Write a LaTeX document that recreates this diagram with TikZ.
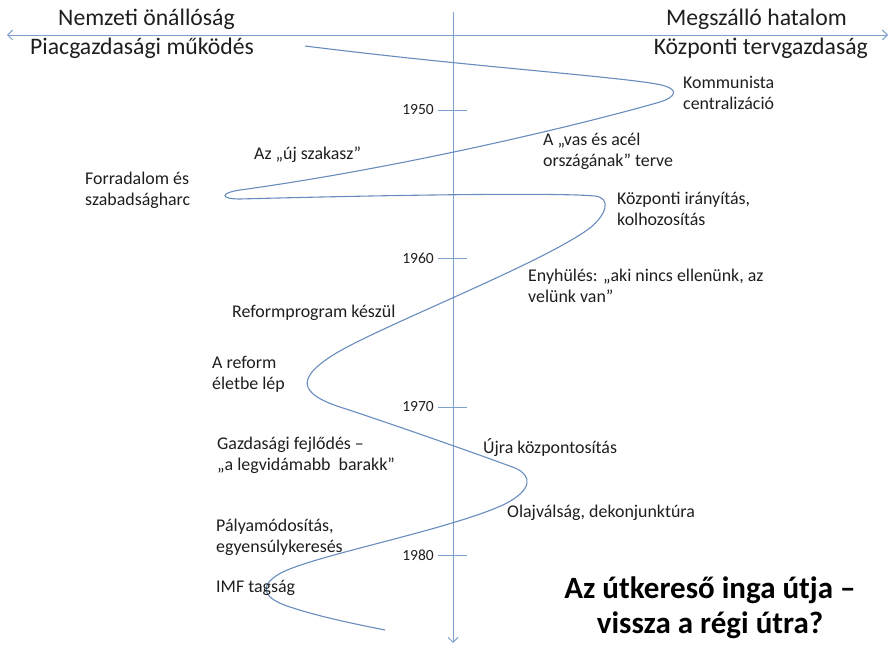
\documentclass[tikz,border=0pt]{standalone}
\usepackage{fontspec}
\setmainfont{Carlito}
\usetikzlibrary{arrows.meta}
\definecolor{axisblue}{RGB}{125,160,205}
\definecolor{curveblue}{RGB}{105,140,190}
\definecolor{txt}{RGB}{30,30,30}
\begin{document}
\begin{tikzpicture}[x=1pt,y=-1pt,
  lbl/.style={inner sep=0pt,anchor=west,align=left,text=txt,font=\fontsize{17.9}{21}\selectfont},
  hdr/.style={inner sep=0pt,text=txt,font=\fontsize{23.7}{26}\selectfont},
  yr/.style={inner sep=0pt,anchor=east,text=txt,font=\fontsize{15.5}{17}\selectfont},
  ttl/.style={inner sep=0pt,align=center,text=black,font=\bfseries\fontsize{31}{35}\selectfont},
  axisline/.style={draw=axisblue,line width=0.9pt},
  tickline/.style={draw=axisblue,line width=0.9pt},
  pend/.style={draw=curveblue,line width=1.1pt}]
\useasboundingbox (0,0) rectangle (891,647);
% axes
\coordinate (hl) at (7,35);
\coordinate (hr) at (888,35);
\coordinate (vt) at (453,12);
\coordinate (vb) at (453,643);
\draw[axisline,{Straight Barb[length=5pt,width=10pt]}-{Straight Barb[length=5pt,width=10pt]}] (hl) -- (hr);
\draw[axisline,-{Straight Barb[length=5pt,width=10pt]}] (vt) -- (vb);
% ticks
\foreach \y/\t in {110/1950,258/1960,407/1970,555/1980}{
  \coordinate (ta\t) at (438,\y);
  \coordinate (tb\t) at (467,\y);
  \draw[tickline] (ta\t) -- (tb\t);
  \node[yr] (y\t) at (434,\y) {\t};
}
% headers
\node[hdr,anchor=west] (h1) at (58,19) {Nemzeti önállóság};
\node[hdr,anchor=west] (h2) at (30,48) {Piacgazdasági működés};
\node[hdr,anchor=east] (h3) at (847,19) {Megszálló hatalom};
\node[hdr,anchor=east] (h4) at (868,48) {Központi tervgazdaság};
% pendulum curve
\draw[pend] (305,46) .. controls (480,68) and (640,78) .. (665,86)
  .. controls (678,90) and (676,97) .. (660,102)
  .. controls (580,125) and (400,168) .. (240,190)
  .. controls (220,193) and (220,199) .. (240,199)
  .. controls (350,196) and (550,192) .. (595,196)
  .. controls (612,198) and (606,215) .. (590,228)
  .. controls (540,265) and (370,330) .. (330,357)
  .. controls (300,377) and (295,393) .. (343,408)
  .. controls (380,420) and (475,453) .. (515,468)
  .. controls (533,476) and (532,490) .. (505,504)
  .. controls (450,530) and (310,556) .. (279,574)
  .. controls (259,586) and (262,598) .. (290,607)
  .. controls (320,617) and (360,625) .. (385,630);
% labels
\node[lbl] (l1) at (683,93) {Kommunista\\centralizáció};
\node[lbl] (l2) at (543,151) {A „vas és acél\\országának” terve};
\node[lbl] (l3) at (254,155) {Az „új szakasz”};
\node[lbl] (l4) at (85,190) {Forradalom és\\szabadságharc};
\node[lbl] (l5) at (617,209) {Központi irányítás,\\kolhozosítás};
\node[lbl] (l6) at (528,286) {Enyhülés: „aki nincs ellenünk, az\\velünk van”};
\node[lbl] (l7) at (232,313) {Reformprogram készül};
\node[lbl] (l8) at (212,374) {A reform\\életbe lép};
\node[lbl] (l9) at (217,455) {Gazdasági fejlődés –\\„a legvidámabb\ \ barakk”};
\node[lbl] (l10) at (483,448) {Újra központosítás};
\node[lbl] (l11) at (507,513) {Olajválság, dekonjunktúra};
\node[lbl] (l12) at (216,537) {Pályamódosítás,\\egyensúlykeresés};
\node[lbl] (l13) at (216,588) {IMF tagság};
% title
\node[ttl] (t) at (710,608) {Az útkereső inga útja –\\vissza a régi útra?};
\end{tikzpicture}
\end{document}
